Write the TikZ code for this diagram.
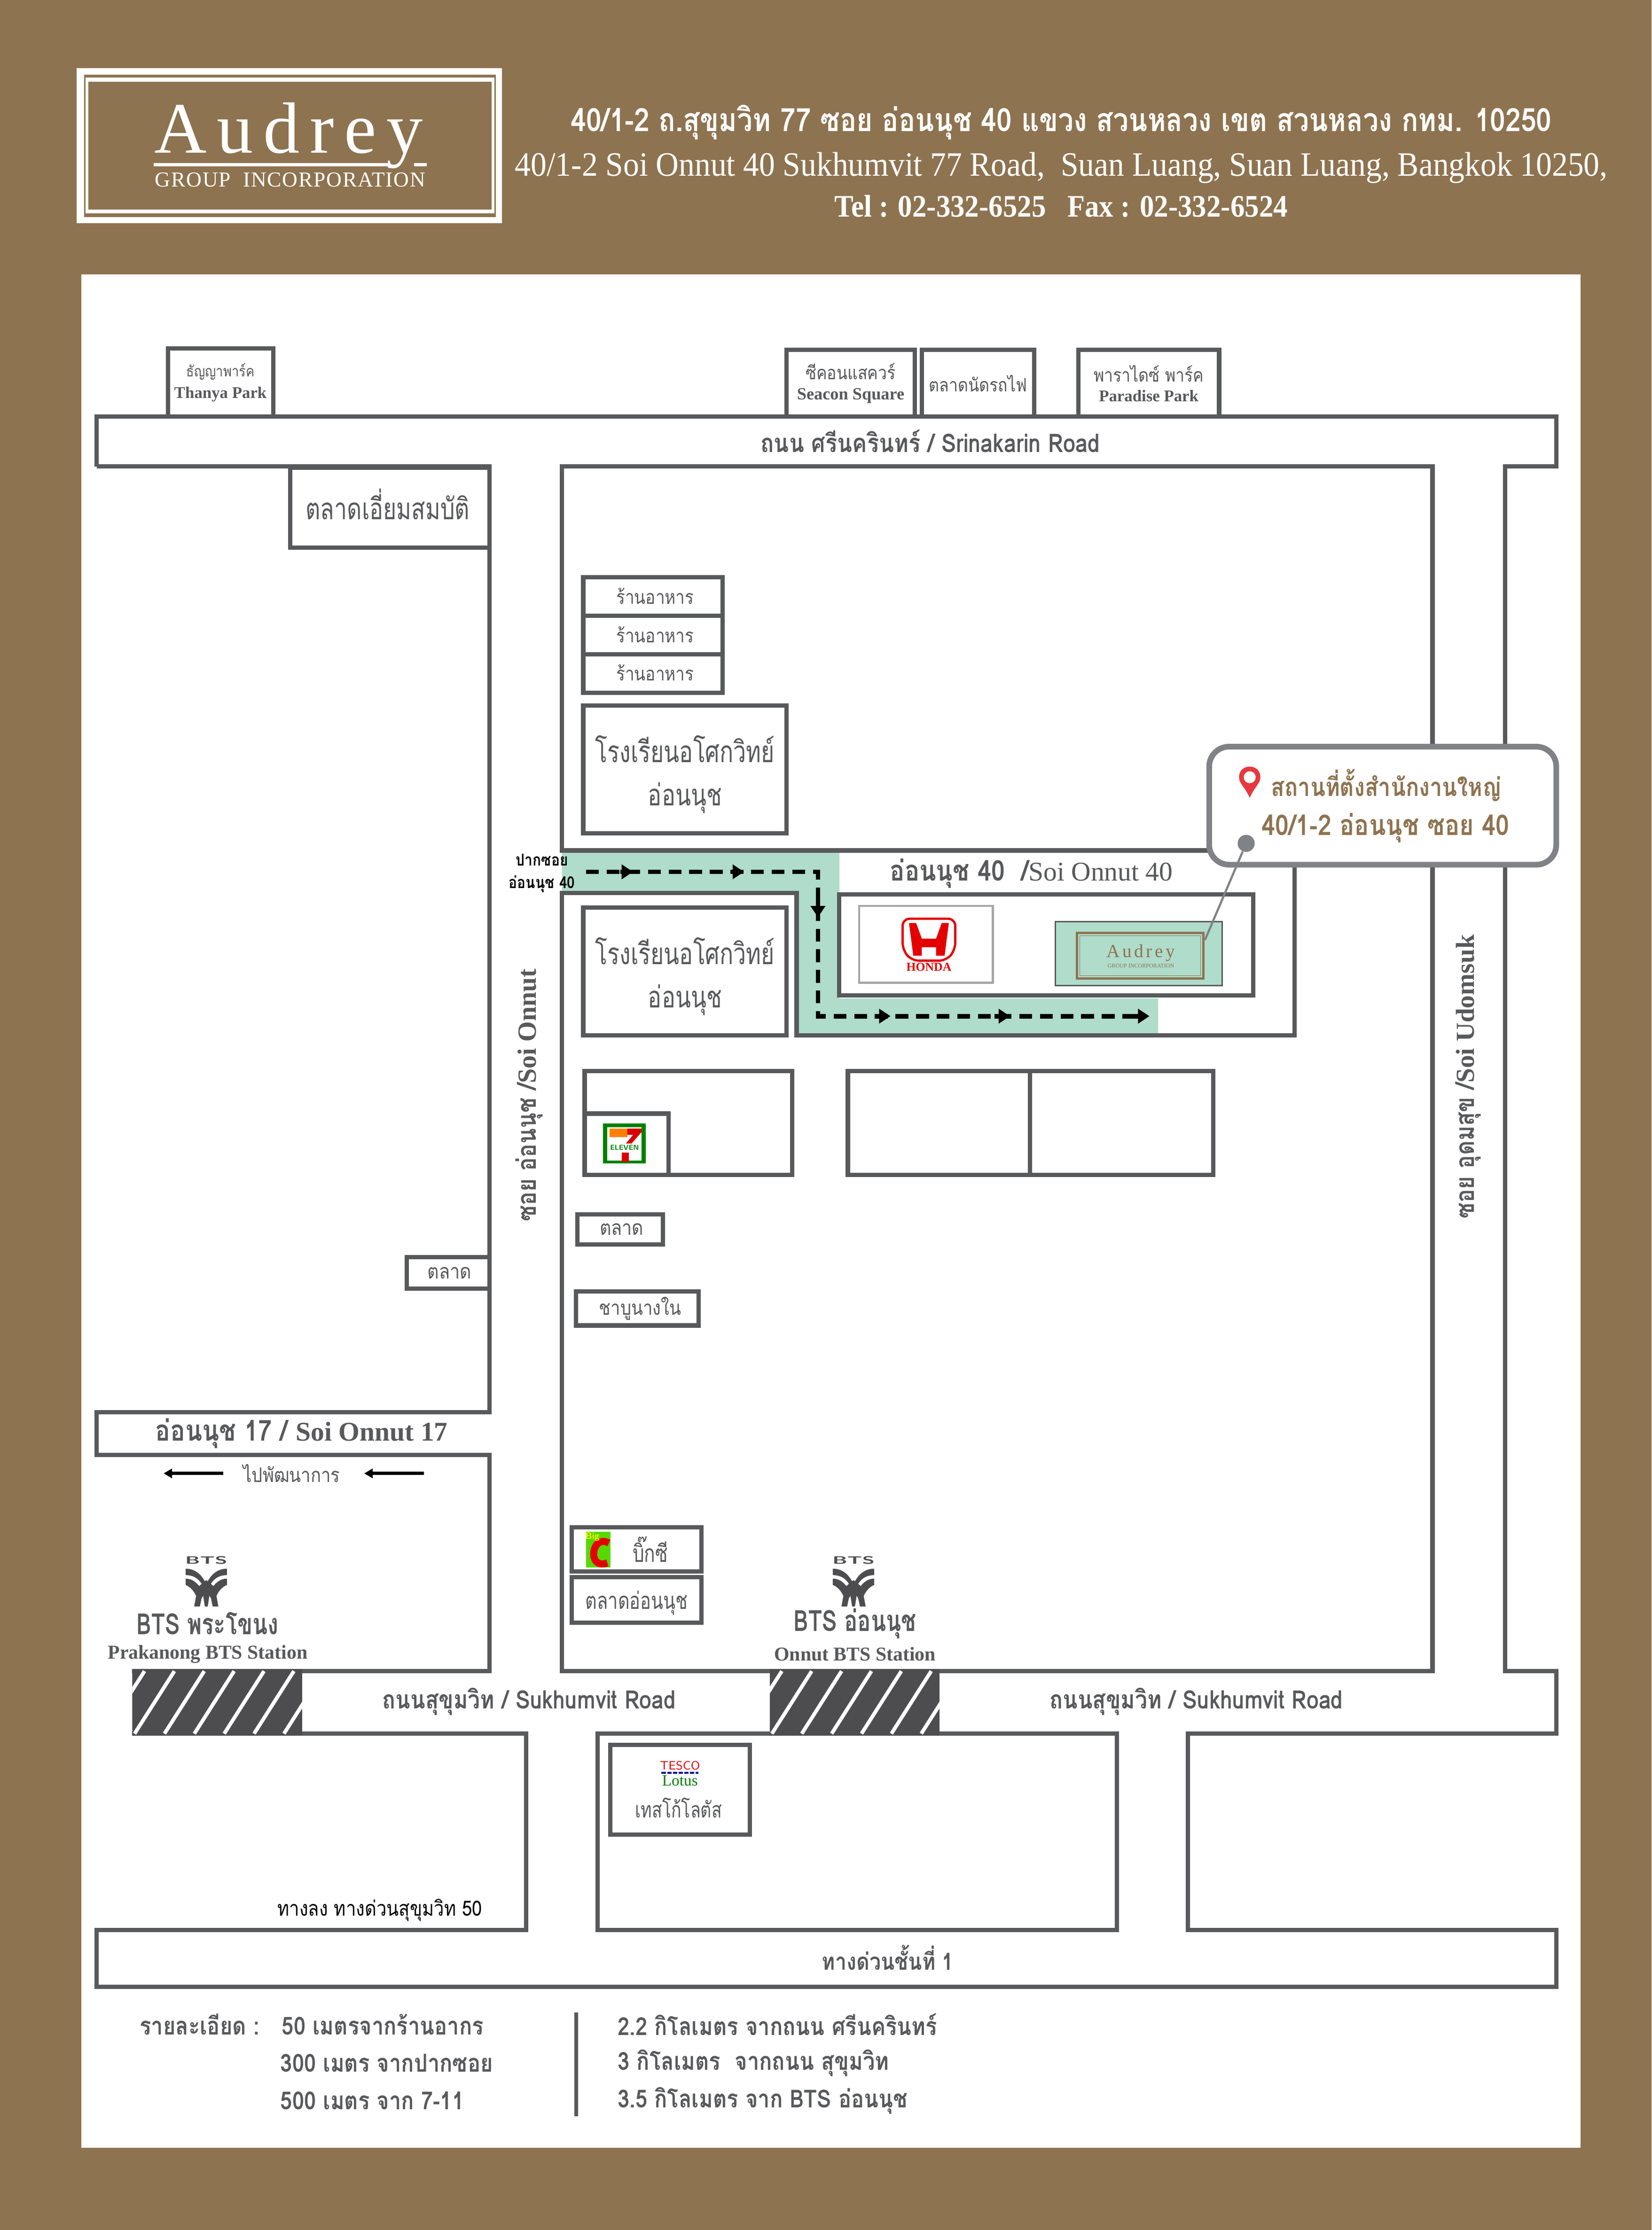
\documentclass[tikz,border=0pt]{standalone}
\usepackage{fontspec}
\setmainfont{Liberation Serif}
\newfontfamily\thaifont[Script=Thai,FakeStretch=0.86]{Loma}
\newfontfamily\thaitall[Script=Thai,FakeStretch=0.76]{Loma}
\newfontfamily\addrfont[FakeStretch=0.93]{Liberation Serif}
\newfontfamily\telfont[FakeStretch=0.915]{Liberation Serif}
\newfontfamily\logofont[LetterSpace=14]{Liberation Serif}
\newfontfamily\smallfont[LetterSpace=4]{Liberation Serif}
\usetikzlibrary{arrows.meta}
\definecolor{brownbg}{HTML}{8E7350}
\definecolor{roadgray}{HTML}{58595B}
\definecolor{darkhatch}{HTML}{4D4D4F}
\definecolor{calloutgray}{HTML}{808285}
\definecolor{mint}{HTML}{AFDCCB}
\definecolor{pinred}{HTML}{E5393F}
\newcommand{\fs}[2][1.35]{\fontsize{#2}{#1\dimexpr #2pt\relax}\selectfont}
\tikzset{
	roadline/.style={draw=roadgray,line width=3pt},
	placebox/.style={draw=roadgray,line width=3pt,fill=white,inner sep=0pt,align=center,text=roadgray,font=\thaifont},
	maplabel/.style={inner sep=0pt,align=center,text=roadgray,font=\thaifont},
	routeline/.style={line width=3.2pt,dash pattern=on 9pt off 5.5pt},
	routetip/.style={line width=3.2pt,-{Triangle[length=8pt,width=10pt]}},
}
\newcommand{\btsmark}[2]{%
	\begin{scope}[shift={(#1,#2)}]
		\node[inner sep=0pt,text=darkhatch,font=\sffamily\bfseries\fs{7.5}] (bts#1) at (0,3.2) {\scalebox{1.9}[1]{BTS}};
		\fill[darkhatch] (-14.5,9) .. controls (-8,9) and (-3,13) .. (0,20) .. controls (3,13) and (8,9) .. (14.5,9)
			-- (14.5,13.5) .. controls (8,13.5) and (4,17) .. (1.5,23) -- (-1.5,23) .. controls (-4,17) and (-8,13.5) .. (-14.5,13.5) -- cycle;
		\fill[darkhatch] (-14.5,16) .. controls (-9,16) and (-5,20) .. (-1.5,27) -- (-7,35.5) -- (-5,35.5) .. controls (-6,28) and (-10,22) .. (-14.5,20.5) -- cycle;
		\fill[darkhatch] (14.5,16) .. controls (9,16) and (5,20) .. (1.5,27) -- (7,35.5) -- (5,35.5) .. controls (6,28) and (10,22) .. (14.5,20.5) -- cycle;
		\fill[darkhatch] (-8.5,35.5) -- (-6,22) -- (0,17) -- (6,22) -- (8.5,35.5) -- (4.5,35.5) -- (2.5,26) -- (1,35.5) -- (-1,35.5) -- (-2.5,26) -- (-4.5,35.5) -- cycle;
	\end{scope}}
\begin{document}
\begin{tikzpicture}[x=1pt,y=-1pt]
	\useasboundingbox (0,0) rectangle (1161,1568);
	\fill[brownbg] (0,0) rectangle (1161,1568);
	\fill[white] (57,193) rectangle (1111,1510);
	% logo
	\fill[white] (54,48) rectangle (353,157);
	\fill[brownbg] (59,52.5) rectangle (348.5,152.5);
	\fill[white] (60,54.6) rectangle (347.5,150);
	\fill[brownbg] (62,57.5) rectangle (345.5,147.5);
	\node[inner sep=0pt,text=white,font=\logofont\fs{51}] (logoname) at (203,95.5) {Audrey};
	\fill[white] (108,114.5) rectangle (273,117);
	\fill[white] (291,114.5) rectangle (300,117);
	\node[inner sep=0pt,text=white,font=\smallfont\fs{15}] (logogroup) at (204,126.5) {GROUP\ \ INCORPORATION};
	% address
	\node[inner sep=0pt,text=white,font=\thaifont\bfseries\fs{22.6}] (addrthai) at (746,86) {40/1-2 ถ.สุขุมวิท 77 ซอย อ่อนนุช 40 แขวง สวนหลวง เขต สวนหลวง กทม. 10250};
	\node[inner sep=0pt,text=white,font=\addrfont\fs{24}] (addreng) at (746,118) {40/1-2 Soi Onnut 40 Sukhumvit 77 Road,\ \ Suan Luang, Suan Luang, Bangkok 10250,};
	\node[inner sep=0pt,text=white,font=\telfont\bfseries\fs{22}] (addrtel) at (746,145) {Tel : 02-332-6525\ \ \ Fax : 02-332-6524};
	% highlighted soi
	\fill[mint] (395,598) -- (590,598) -- (590,702) -- (814,702) -- (814,728) -- (560,728) -- (560,628) -- (395,628) -- cycle;
	% roads
	\draw[roadline] (68,328) -- (68,293) -- (1094,293) -- (1094,328) -- (1058,328) -- (1058,1175) -- (1094,1175) -- (1094,1219) -- (835,1219) -- (835,1357) -- (1094,1357) -- (1094,1397) -- (68,1397) -- (68,1357) -- (370,1357) -- (370,1219) -- (93,1219);
	\draw[roadline] (68,328) -- (344,328) -- (344,993) -- (68,993) -- (68,1023) -- (344,1023) -- (344,1175) -- (93,1175);
	\draw[roadline] (395,598) -- (395,328) -- (1007,328) -- (1007,1175) -- (395,1175) -- (395,628) -- (560,628) -- (560,728) -- (910,728) -- (910,598) -- cycle;
	\draw[roadline] (420,1357) -- (420,1219) -- (785,1219) -- (785,1357) -- cycle;
	\draw[roadline] (590,629) rectangle (881,700);
	\draw[roadline] (596,753) rectangle (853,826);
	\draw[roadline] (724,753) -- (724,826);
	\draw[roadline,line width=2.5pt] (405,1415) -- (405,1488);
	% bts hatched
	\foreach \hx in {93,541} {
		\begin{scope}
			\clip (\hx,1173.5) rectangle (\hx+119.5,1220.5);
			\fill[darkhatch] (\hx,1173.5) rectangle (\hx+119.5,1220.5);
			\foreach \k in {-1,...,7}
				\draw[white,line width=2.6pt] (\hx+8.6+21*\k,1175) -- (\hx+8.6+21*\k-28,1219);
		\end{scope}
	}
	% places
	\node[placebox,minimum width=74pt,minimum height=48pt] (thanya) at (155,269) {\fs[1.2]{10.5}ธัญญาพาร์ค\\[3pt]\rmfamily\bfseries\fs[1.2]{11.5}Thanya Park};
	\node[placebox,minimum width=90pt,minimum height=47pt] (seacon) at (598,269.5) {\fs[1.2]{13}ซีคอนแสควร์\\[2pt]\rmfamily\bfseries\fs[1.2]{12}Seacon Square};
	\node[placebox,minimum width=79pt,minimum height=47pt] (traintalat) at (687.5,269.5) {\fs{13}ตลาดนัดรถไฟ};
	\node[placebox,minimum width=99pt,minimum height=47pt] (paradise) at (807.5,269.5) {\fs[1.2]{13}พาราไดซ์ พาร์ค\\[2pt]\rmfamily\bfseries\fs[1.2]{11.5}Paradise Park};
	\node[placebox,minimum width=140pt,minimum height=56pt] (aiemsombat) at (274,357) {\hspace*{-3pt}\raisebox{5pt}{\thaitall\fs{21}ตลาดเอี่ยมสมบัติ}};
	\node[placebox,minimum width=98pt,minimum height=27pt] (food1) at (459,419.5) {\hspace*{3pt}\raisebox{1pt}{\fs{13.5}ร้านอาหาร}};
	\node[placebox,minimum width=98pt,minimum height=27pt] (food2) at (459,446.5) {\hspace*{3pt}\raisebox{1pt}{\fs{13.5}ร้านอาหาร}};
	\node[placebox,minimum width=98pt,minimum height=27pt] (food3) at (459,473.5) {\hspace*{3pt}\raisebox{1pt}{\fs{13.5}ร้านอาหาร}};
	\node[placebox,minimum width=143pt,minimum height=90pt] (school1) at (481.5,541) {};
	\node[maplabel,font={\thaitall\fs[1.45]{21}}] (school1text) at (481.5,544.5) {โรงเรียนอโศกวิทย์\\อ่อนนุช};
	\node[placebox,minimum width=143pt,minimum height=90pt] (school2) at (481.5,683) {};
	\node[maplabel,font={\thaitall\fs[1.45]{21}}] (school2text) at (481.5,686.5) {โรงเรียนอโศกวิทย์\\อ่อนนุช};
	\node[placebox,minimum width=146pt,minimum height=73pt] (seven) at (484,789.5) {};
	\node[placebox,minimum width=59pt,minimum height=43pt] (sevenshop) at (440.5,804.5) {};
	\node[placebox,minimum width=60pt,minimum height=21pt] (talat1) at (436,864.5) {\hspace*{2pt}\fs{14.5}ตลาด};
	\node[placebox,minimum width=86pt,minimum height=24pt] (shabu) at (448,920) {\hspace*{4pt}\fs{14}ชาบูนางใน};
	\node[placebox,minimum width=58pt,minimum height=22pt] (talat2) at (315,895) {\hspace*{2pt}\fs{14.5}ตลาด};
	\node[placebox,minimum width=91pt,minimum height=31pt,text width=72pt,align=right] (bigc) at (447.5,1089.5) {\thaitall\fs{17}บิ๊กซี\hspace*{14pt}};
	\node[placebox,minimum width=91pt,minimum height=32pt] (onnutmarket) at (447.5,1125) {};
	\node[maplabel,font=\thaitall\fs{16.5}] (onnutmarkettext) at (447.5,1127) {ตลาดอ่อนนุช};
	\node[placebox,minimum width=98pt,minimum height=63pt] (tesco) at (478,1258.5) {};
	\node[maplabel,font=\thaitall\fs{15.5}] (tescothai) at (477,1271) {เทสโก้โลตัส};
	% honda
	\node[draw=black!35,line width=1.5pt,minimum width=94pt,minimum height=54pt,inner sep=0pt] (hondabox) at (651,664) {};
	\draw[red!90!black,line width=1.6pt,rounded corners=5pt] (634.5,646) -- (671.5,646) -- (671.5,668) -- (665,675.5) -- (641,675.5) -- (634.5,668) -- cycle;
	\fill[red!90!black] (639,649) -- (644,649) -- (648,660) -- (658,660) -- (662,649) -- (667,649) -- (664,672) -- (658,672) -- (658,666) -- (648,666) -- (648,672) -- (642,672) -- cycle;
	\node[inner sep=0pt,text=red!90!black,font=\bfseries\fs{8.5}] (hondaname) at (653,680) {HONDA};
	% audrey on the map
	\node[fill=mint,draw=roadgray,line width=1pt,minimum width=117pt,minimum height=45pt,inner sep=0pt] (officebox) at (800.5,670.5) {};
	\node[draw=brownbg,line width=1.5pt,minimum width=89pt,minimum height=32pt,inner sep=0pt] (officeframe) at (801.5,672) {};
	\node[draw=brownbg,line width=.5pt,minimum width=85pt,minimum height=28pt,inner sep=0pt] (officeinner) at (801.5,672) {};
	\node[inner sep=0pt,text=brownbg,font=\logofont\fs{13}] (officename) at (802,670) {Audrey};
	\node[inner sep=0pt,text=brownbg,font=\fs{4}] (officegroup) at (802,679) {GROUP INCORPORATION};
	% seven eleven
	\fill[green!50!black] (424,790) rectangle (454,818);
	\fill[white] (427,792.5) rectangle (451,816);
	\fill[orange] (428.5,793.5) rectangle (441,799.5);
	\fill[red!85!black] (441,793.5) -- (451,793.5) -- (451,796) -- (444,804) -- (440,804) -- (445,798) -- (441,798) -- cycle;
	\fill[red!85!black] (437,810.5) rectangle (442,817);
	\node[inner sep=0pt,text=green!50!black,font=\sffamily\bfseries\fs{5}] (sevenname) at (439,807) {ELEVEN};
	% big c
	\fill[green!60!yellow!85!black] (412,1077) rectangle (429,1102);
	\draw[red!90!black,line width=5pt] (428,1085) .. controls (416,1078) and (412,1104) .. (427,1099);
	\node[inner sep=0pt,text=yellow,font=\sffamily\bfseries\fs{6.5}] (bigcword) at (416.5,1080.5) {Big};
	% tesco
	\node[inner sep=0pt,text=red!90!black,font=\sffamily\fs{8.5}] (tesconame) at (478,1241.5) {TESCO};
	\draw[blue!60!black,line width=1.2pt,dash pattern=on 3pt off 1pt] (465,1246.5) -- (491,1246.5);
	\node[inner sep=0pt,text=green!50!black,font=\fs{11}] (lotusname) at (478,1252) {Lotus};
	% road names
	\node[maplabel,font=\thaifont\bfseries\fs{18}] (srinakarin) at (654,310) {ถนน ศรีนครินทร์ / Srinakarin Road};
	\node[maplabel,font=\thaifont\bfseries\fs{20}] (soi40) at (725,614) {อ่อนนุช 40\ \ /{\rmfamily\mdseries\fs{19}Soi Onnut 40}};
	\node[maplabel,rotate=90,font=\thaifont\bfseries\fs{18.5}] (soionnut) at (372,770) {ซอย อ่อนนุช\ /{\rmfamily Soi Onnut}};
	\node[maplabel,rotate=90,font=\thaifont\bfseries\fs{18.3}] (soiudom) at (1032,757) {ซอย อุดมสุข\ /{\rmfamily Soi Udomsuk}};
	\node[maplabel,font=\thaifont\bfseries\fs{20.3}] (soi17) at (212,1008) {อ่อนนุช 17\ /\ {\rmfamily\fs{19}Soi Onnut 17}};
	\node[maplabel,font=\thaifont\fs{14}] (pattanakan) at (205,1036) {ไปพัฒนาการ};
	\coordinate (west1a) at (157,1036);
	\coordinate (west1b) at (115,1036);
	\coordinate (west2a) at (298,1036);
	\coordinate (west2b) at (256,1036);
	\draw[line width=2.4pt,-{Triangle[length=6pt,width=6.5pt]}] (west1a) -- (west1b);
	\draw[line width=2.4pt,-{Triangle[length=6pt,width=6.5pt]}] (west2a) -- (west2b);
	\node[maplabel,font=\thaifont\bfseries\fs{17.8}] (rama1) at (372,1196.5) {ถนนสุขุมวิท / Sukhumvit Road};
	\node[maplabel,font=\thaifont\bfseries\fs{17.8}] (rama2) at (841,1196.5) {ถนนสุขุมวิท / Sukhumvit Road};
	\node[maplabel,text=black,font=\thaifont\fs{14.7}] (rampdown) at (267,1343) {ทางลง ทางด่วนสุขุมวิท 50};
	\node[maplabel,font=\thaifont\bfseries\fs{16.5}] (expressway) at (624,1376.5) {ทางด่วนชั้นที่ 1};
	% bts
	\btsmark{145}{1094}
	\btsmark{600}{1094}
	\node[maplabel,font=\thaitall\bfseries\fs{20.5}] (prakanongth) at (146,1141.5) {BTS พระโขนง};
	\node[maplabel,font=\bfseries\fs{13.8}] (prakanongen) at (146,1163) {Prakanong BTS Station};
	\node[maplabel,font=\thaitall\bfseries\fs{20.5}] (onnutth) at (601,1141.5) {BTS อ่อนนุช};
	\node[maplabel,font=\bfseries\fs{13.8}] (onnuten) at (601,1163) {Onnut BTS Station};
	% route
	\node[inner sep=0pt,align=center,text=black,font={\thaifont\bfseries\fs[1.4]{11.5}}] (mouth) at (381,614) {ปากซอย\\อ่อนนุช 40};
	\coordinate (route1) at (412,613);
	\coordinate (route2) at (575,613);
	\coordinate (route3) at (575,714.5);
	\coordinate (route4) at (800,714.5);
	\draw[routeline] (route1) -- (route2) -- (route3) -- (route4);
	\foreach \ax/\ay/\bx/\by in {436/613/445/613,514/613/523/613,575/632/575/645,615/714.5/626/714.5,699/714.5/710/714.5,798/714.5/808/714.5}
		\draw[routetip] (\ax,\ay) -- (\bx,\by);
	% callout
	\node[draw=calloutgray,line width=4pt,fill=white,rounded corners=14pt,minimum width=244pt,minimum height=83pt,inner sep=0pt] (callout) at (972,566.5) {};
	\node[maplabel,text=brownbg,font=\thaifont\bfseries\fs{18}] (hq1) at (974.5,552) {สถานที่ตั้งสำนักงานใหญ่};
	\node[maplabel,text=brownbg,font=\thaifont\bfseries\fs{20}] (hq2) at (974,582) {40/1-2 อ่อนนุช ซอย 40};
	\fill[pinred] (878.5,561) .. controls (875,553) and (871,551) .. (871,546.5) .. controls (871,536.5) and (886,536.5) .. (886,546.5) .. controls (886,551) and (882,553) .. (878.5,561) -- cycle;
	\fill[white] (878.5,546.5) circle (4.2pt);
	\node[circle,fill=calloutgray,minimum size=12pt,inner sep=0pt] (pindot) at (876,593) {};
	\coordinate (officetip) at (847,661);
	\draw[calloutgray,line width=1.5pt] (pindot) -- (officetip);
	% details
	\node[maplabel,anchor=west,font=\thaifont\bfseries\fs{17.4}] (detail) at (98,1423.5) {รายละเอียด :};
	\node[maplabel,anchor=west,font=\thaifont\bfseries\fs{17.4}] (dist1) at (198,1423.5) {50 เมตรจากร้านอากร};
	\node[maplabel,anchor=west,font=\thaifont\bfseries\fs{17.4}] (dist2) at (197,1450.5) {300 เมตร จากปากซอย};
	\node[maplabel,anchor=west,font=\thaifont\bfseries\fs{17.4}] (dist3) at (197,1477) {500 เมตร จาก 7-11};
	\node[maplabel,anchor=west,font=\thaifont\bfseries\fs{17.4}] (dist4) at (434,1423.5) {2.2 กิโลเมตร จากถนน ศรีนครินทร์};
	\node[maplabel,anchor=west,font=\thaifont\bfseries\fs{17.4}] (dist5) at (434,1450.5) {3 กิโลเมตร\ \ จากถนน สุขุมวิท};
	\node[maplabel,anchor=west,font=\thaifont\bfseries\fs{17.4}] (dist6) at (434,1477) {3.5 กิโลเมตร จาก BTS อ่อนนุช};
\end{tikzpicture}
\end{document}
